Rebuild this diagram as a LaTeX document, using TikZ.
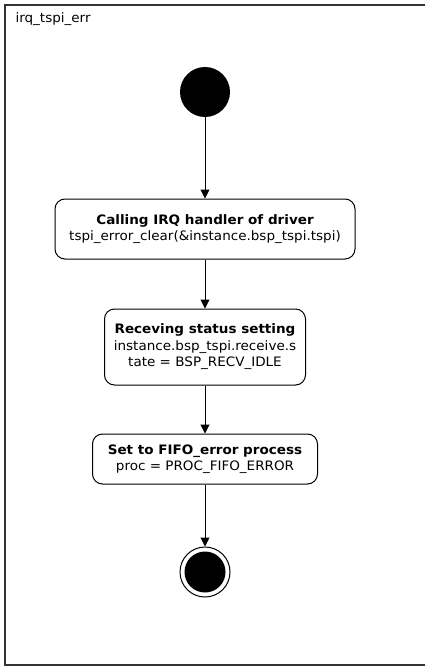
\documentclass[tikz,border=0pt]{standalone}
\usepackage{fontspec}
\setmainfont{DejaVu Sans}[FakeStretch=1.04]
\usetikzlibrary{arrows.meta}
\begin{document}
\begin{tikzpicture}[x=1pt,y=-1pt,
  txt/.style={font=\fontsize{13}{16}\selectfont},
  statebox/.style={draw=black, line width=1pt, rounded corners=10pt, fill=white, align=center, inner sep=0pt, font=\fontsize{13}{16.5}\selectfont},
  flow/.style={draw=black, line width=1pt, -{Triangle[length=9pt,width=9pt]}}]
\useasboundingbox (0,0) rectangle (425,666);
\draw[line width=1.4pt, draw=black!80] (430,5) -- (5,5) -- (5,665) -- (430,665);
\node[txt, anchor=base west] (title) at (12,23) {irq\_tspi\_err};
\node[circle, fill=black, minimum size=50pt, inner sep=0pt] (start) at (205,92) {};
\node[statebox, minimum width=300pt, minimum height=60pt] (b1) at (205,229)
  {\textbf{Calling IRQ handler of driver}\\tspi\_error\_clear(\&instance.bsp\_tspi.tspi)};
\node[statebox, minimum width=201pt, minimum height=76pt] (b2) at (205,347)
  {\textbf{Receving status setting}\\instance.bsp\_tspi.receive.s\\tate = BSP\_RECV\_IDLE};
\node[statebox, minimum width=225pt, minimum height=50pt] (b3) at (205,459)
  {\textbf{Set to FIFO\_error process}\\proc = PROC\_FIFO\_ERROR};
\node[circle, draw=black, line width=1pt, fill=white, minimum size=50pt, inner sep=0pt] (end) at (205,572) {};
\node[circle, fill=black, minimum size=41pt, inner sep=0pt] (endin) at (end.center) {};
\draw[flow] (start) -- (b1);
\draw[flow] (b1) -- (b2);
\draw[flow] (b2) -- (b3);
\draw[flow] (b3) -- (end);
\end{tikzpicture}
\end{document}
